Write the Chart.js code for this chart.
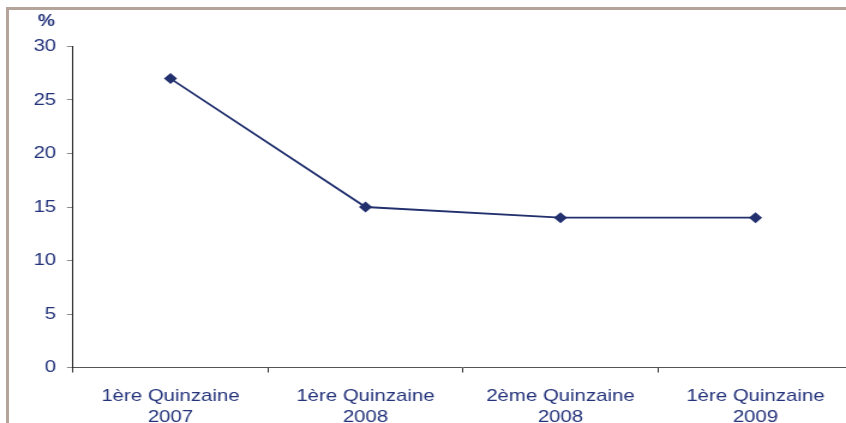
<!DOCTYPE html>
<html>
<head>
<meta charset="utf-8">
<script src="https://cdn.jsdelivr.net/npm/chart.js@4.4.1/dist/chart.umd.min.js"></script>
<style>
  html, body { margin: 0; padding: 0; background: #fff; width: 846px; height: 423px; overflow: hidden; }
  #frame {
    position: absolute; left: 6px; top: 7px; width: 900px; height: 440px;
    border-top: 3px solid #b5a499; border-left: 3px solid #b5a499;
  }
  #chart { position: absolute; left: 0; top: 0; transform: scaleX(1.2); transform-origin: 0 0; }
</style>
</head>
<body>
<div id="frame"></div>
<canvas id="chart" width="720" height="423"></canvas>
<script>
// periods (two-line labels) and share in %
const categories = [
  ['1ère Quinzaine', '2007'],
  ['1ère Quinzaine', '2008'],
  ['2ème Quinzaine', '2008'],
  ['1ère Quinzaine', '2009'],
];
const values = [27, 15, 14, 14];
const yTicks = [0, 5, 10, 15, 20, 25, 30];
const unitLabel = '%';

const NAVY = '#22306e';
const TEXT = '#24337a';
const FONT = 'Liberation Sans, Arial, sans-serif';

// "%" above the y axis
const unitPlugin = {
  id: 'unit',
  afterDraw(chart) {
    const ctx = chart.ctx;
    ctx.save();
    ctx.fillStyle = TEXT;
    ctx.font = 'bold 16px ' + FONT;
    ctx.textAlign = 'center';
    ctx.textBaseline = 'middle';
    ctx.fillText(unitLabel, 38.5, 22);
    ctx.restore();
  }
};

new Chart(document.getElementById('chart'), {
  type: 'line',
  data: {
    labels: categories,
    datasets: [{
      data: values,
      borderColor: NAVY,
      backgroundColor: NAVY,
      borderWidth: 1.8,
      pointStyle: 'rectRot',
      pointRadius: 5.5,
      pointBorderWidth: 0,
      tension: 0,
    }]
  },
  options: {
    responsive: false,
    animation: false,
    layout: { padding: { top: 46.5, right: 9.2, left: 0, bottom: 0 } },
    plugins: { legend: { display: false }, tooltip: { enabled: false } },
    scales: {
      x: {
        offset: true,
        grid: { offset: true, drawOnChartArea: false, drawTicks: true, tickLength: 5, color: '#333' },
        border: { display: true, color: '#555', width: 1 },
        ticks: { color: TEXT, font: { family: FONT, size: 17 }, padding: 14, maxRotation: 0, autoSkip: false },
        afterFit(scale) { scale.height = 55.5; }
      },
      y: {
        min: 0, max: 30,
        afterBuildTicks(scale) { scale.ticks = yTicks.map(v => ({ value: v })); },
        grid: { drawOnChartArea: false, drawTicks: true, tickLength: 5, color: '#888' },
        border: { display: true, color: '#222', width: 1 },
        ticks: { color: TEXT, font: { family: FONT, size: 17 }, padding: 9 },
        afterFit(scale) { scale.width = 60.8; }
      }
    }
  },
  plugins: [unitPlugin]
});
</script>
</body>
</html>
